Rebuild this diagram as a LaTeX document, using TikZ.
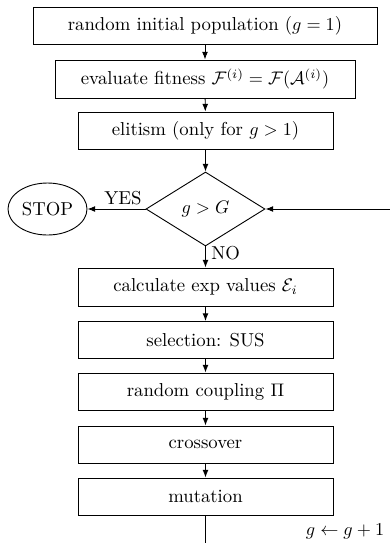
\documentclass[tikz,border=0pt]{standalone}
\usetikzlibrary{shapes.geometric,arrows.meta}
\begin{document}
\begin{tikzpicture}[x=0.55pt,y=-0.55pt,line width=0.5pt,
  every node/.style={font=\fontsize{10.3pt}{12pt}\selectfont},
  procbox/.style={draw,rectangle,minimum height=37*0.55pt,inner sep=0pt},
  conn/.style={-{Latex[length=4.2pt,width=3.2pt]}},
  lbl/.style={inner sep=0pt}]
\useasboundingbox (0,0) rectangle (390,543);
\node[procbox,minimum width=344*0.55pt] (b1) at (205,25.5) {random initial population ($g=1$)};
\node[procbox,minimum width=300*0.55pt,minimum height=38*0.55pt] (b2) at (205,79) {evaluate fitness $\mathcal{F}^{(i)} = \mathcal{F}(\mathcal{A}^{(i)})$};
\node[procbox,minimum width=255*0.55pt] (b3) at (205.5,130.5) {elitism (only for $g > 1$)};
\node[draw,diamond,minimum width=119*0.55pt,minimum height=74*0.55pt,inner sep=0pt] (d) at (205.5,209) {$g > G$};
\node[draw,ellipse,minimum width=79*0.55pt,minimum height=52*0.55pt,inner sep=0pt] (stop) at (47.5,209) {STOP};
\node[procbox,minimum width=255*0.55pt,minimum height=38*0.55pt] (b4) at (205.5,287) {calculate exp values $\mathcal{E}_i$};
\node[procbox,minimum width=255*0.55pt] (b5) at (205.5,340) {selection: SUS};
\node[procbox,minimum width=255*0.55pt] (b6) at (205.5,391.5) {random coupling $\Pi$};
\node[procbox,minimum width=255*0.55pt] (b7) at (205.5,444.5) {crossover};
\node[procbox,minimum width=255*0.55pt] (b8) at (205.5,496.5) {mutation};
\coordinate (bot) at (205.5,543);
\coordinate (rgt) at (390,209);
\draw[conn] (b1) -- (b2);
\draw[conn] (b2) -- (b3);
\draw[conn] (b3) -- (d);
\draw[conn] (d) -- node[lbl,above=2pt,xshift=3.5pt] {YES} (stop);
\draw[conn] (d) -- node[lbl,right=3pt,yshift=2pt] {NO} (b4);
\draw[conn] (b4) -- (b5);
\draw[conn] (b5) -- (b6);
\draw[conn] (b6) -- (b7);
\draw[conn] (b7) -- (b8);
\draw (b8) -- (bot);
\draw[conn] (rgt) -- (d);
\node[lbl] (inc) at (345,531) {$g \leftarrow g+1$};
\end{tikzpicture}
\end{document}
